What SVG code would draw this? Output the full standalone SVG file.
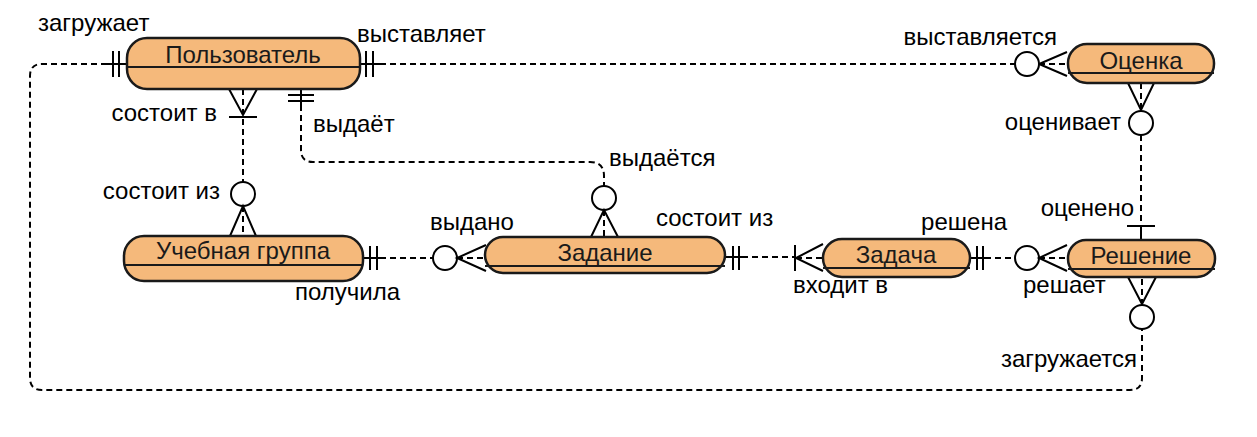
<svg xmlns="http://www.w3.org/2000/svg" width="1257" height="437" viewBox="0 0 1257 437">
<style>
.node rect{fill:#F5B97B;stroke:#1a1a1a;stroke-width:2.5}
.node line{stroke:#1a1a1a;stroke-width:2}
.node text{font-family:"Liberation Sans",Arial,sans-serif;font-size:24px;fill:#1a1a1a;text-anchor:middle}
.lbl{font-family:"Liberation Sans",Arial,sans-serif;font-size:24px;fill:#000}
.d{fill:none;stroke:#000;stroke-width:2;stroke-dasharray:6 4}
.s{fill:none;stroke:#000;stroke-width:2}
.c{fill:#fff;stroke:#000;stroke-width:2}
</style>
<rect width="1257" height="437" fill="#fff"/>
<g id="connectors">
  <!-- загружает / загружается -->
  <path class="s" d="M107,64 H127 M113,51 V77 M119,51 V77"/>
  <path class="d" d="M107,64 H42 Q30,64 30,76 V378 Q30,390 42,390 H1130 Q1142,390 1142,378 V329"/>
  <path class="d" d="M1142,305 V277"/>
  <path class="s" d="M1128,277 L1142,304 L1156,277"/>
  <circle class="c" cx="1142" cy="317" r="12"/>
  <!-- выставляет / выставляется -->
  <path class="s" d="M360,64 H380 M366,51 V77 M373,51 V77"/>
  <path class="d" d="M380,64 H1015"/>
  <path class="d" d="M1039,64 H1068"/>
  <path class="s" d="M1067,52 L1039,64 L1067,76"/>
  <circle class="c" cx="1027" cy="64" r="12"/>
  <!-- состоит в / состоит из -->
  <path class="s" d="M229,89 L243,115 L257,89 M229,117 H257"/>
  <path class="d" d="M243,89 V182"/>
  <circle class="c" cx="243" cy="194" r="12"/>
  <path class="s" d="M230,236 L243,206 L256,236"/>
  <path class="d" d="M243,206 V236"/>
  <!-- выдаёт / выдаётся -->
  <path class="s" d="M301,89 V105 M288,95 H314 M288,101 H314"/>
  <path class="d" d="M301,105 V150 Q301,162 313,162 H590 Q604,162 604,176 V186"/>
  <circle class="c" cx="604" cy="198" r="12"/>
  <path class="s" d="M591,237 L604,210 L618,237"/>
  <path class="d" d="M604,210 V237"/>
  <!-- получила / выдано -->
  <path class="s" d="M363,258 H380 M370,246 V270 M377,246 V270"/>
  <path class="d" d="M380,258 H433"/>
  <circle class="c" cx="445" cy="258" r="12"/>
  <path class="s" d="M486,245 L457,258 L486,271"/>
  <path class="d" d="M457,258 H486"/>
  <!-- состоит из / входит в -->
  <path class="s" d="M725,257 H742 M733,246 V270 M739,246 V270"/>
  <path class="d" d="M742,257 H795"/>
  <path class="s" d="M795,245 V271 M823,244 L796,258 L823,271"/>
  <path class="d" d="M796,258 H823"/>
  <!-- решена / решает -->
  <path class="s" d="M970,258 H985 M977,246 V270 M983,246 V270"/>
  <path class="d" d="M985,258 H1015"/>
  <circle class="c" cx="1027" cy="258" r="12"/>
  <path class="s" d="M1067,245 L1039,258 L1067,271"/>
  <path class="d" d="M1039,258 H1068"/>
  <!-- оценивает / оценено -->
  <path class="s" d="M1128,83 L1141,110 L1154,83"/>
  <path class="d" d="M1141,83 V111"/>
  <circle class="c" cx="1141" cy="123" r="12"/>
  <path class="d" d="M1141,135 V226"/>
  <path class="s" d="M1127,226 H1155 M1141,226 V240"/>
</g>
<g id="labels">
  <text class="lbl" x="38" y="31">загружает</text>
  <text class="lbl" x="357" y="42">выставляет</text>
  <text class="lbl" x="1057" y="45" text-anchor="end">выставляется</text>
  <text class="lbl" x="1121" y="130" text-anchor="end">оценивает</text>
  <text class="lbl" x="1134" y="216" text-anchor="end">оценено</text>
  <text class="lbl" x="1007" y="230" text-anchor="end">решена</text>
  <text class="lbl" x="1023" y="293">решает</text>
  <text class="lbl" x="793" y="293">входит в</text>
  <text class="lbl" x="656" y="226">состоит из</text>
  <text class="lbl" x="430" y="230">выдано</text>
  <text class="lbl" x="609" y="166">выдаётся</text>
  <text class="lbl" x="313" y="132">выдаёт</text>
  <text class="lbl" x="217" y="121" text-anchor="end">состоит в</text>
  <text class="lbl" x="220" y="199" text-anchor="end">состоит из</text>
  <text class="lbl" x="295" y="300">получила</text>
  <text class="lbl" x="1137" y="367" text-anchor="end">загружается</text>
</g>
<g id="user" class="node">
  <rect x="127" y="38" width="233" height="51" rx="20"/>
  <line x1="127" y1="67" x2="360" y2="67"/>
  <text x="243" y="63">Пользователь</text>
</g>
<g id="grade" class="node">
  <rect x="1068" y="44" width="146" height="39" rx="19"/>
  <line x1="1068" y1="73" x2="1214" y2="73"/>
  <text x="1141" y="69">Оценка</text>
</g>
<g id="group" class="node">
  <rect x="124" y="236" width="239" height="45" rx="20"/>
  <line x1="124" y1="265" x2="363" y2="265"/>
  <text x="243" y="259">Учебная группа</text>
</g>
<g id="assignment" class="node">
  <rect x="485" y="237" width="240" height="36" rx="18"/>
  <line x1="485" y1="266" x2="725" y2="266"/>
  <text x="605" y="261">Задание</text>
</g>
<g id="task" class="node">
  <rect x="823" y="239" width="147" height="38" rx="19"/>
  <line x1="823" y1="268" x2="970" y2="268"/>
  <text x="896" y="263">Задача</text>
</g>
<g id="solution" class="node">
  <rect x="1068" y="240" width="147" height="37" rx="18"/>
  <line x1="1068" y1="269" x2="1215" y2="269"/>
  <text x="1141" y="264">Решение</text>
</g>
</svg>
